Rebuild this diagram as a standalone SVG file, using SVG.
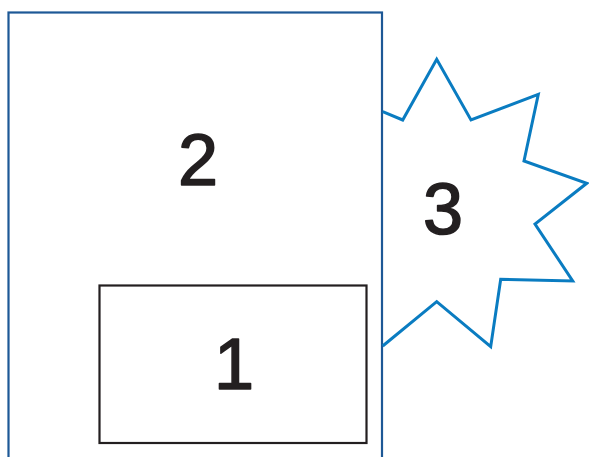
<svg xmlns="http://www.w3.org/2000/svg" width="589" height="457" viewBox="0 0 589 457">
<style>
.lbl{font-family:"Liberation Sans",Arial,sans-serif;font-size:72px;font-weight:normal;fill:#231f20;stroke:#231f20;stroke-width:1.6;stroke-linejoin:round;text-anchor:middle}
</style>
<rect width="589" height="457" fill="#ffffff"/>
<g id="node2">
<rect x="8.5" y="12.5" width="373.5" height="460" fill="none" stroke="#1d5896" stroke-width="2.2"/>
<text class="lbl" x="198" y="184.5">2</text>
</g>
<g id="node3">
<polyline points="382.7,111.7 402.7,120 436.7,59.3 471,120 538.3,94.3 524,161 586.7,183.3 535,224 572.7,281 500.7,279.3 490.7,346.7 436.7,301.7 382.7,346" fill="none" stroke="#0a7cc1" stroke-width="3"/>
<text class="lbl" x="443" y="234">3</text>
</g>
<g id="node1">
<rect x="99.5" y="285.5" width="267" height="157.5" fill="none" stroke="#231f20" stroke-width="2.2"/>
<text class="lbl" x="234" y="388.5">1</text>
</g>
<g id="connectors"/>
</svg>
